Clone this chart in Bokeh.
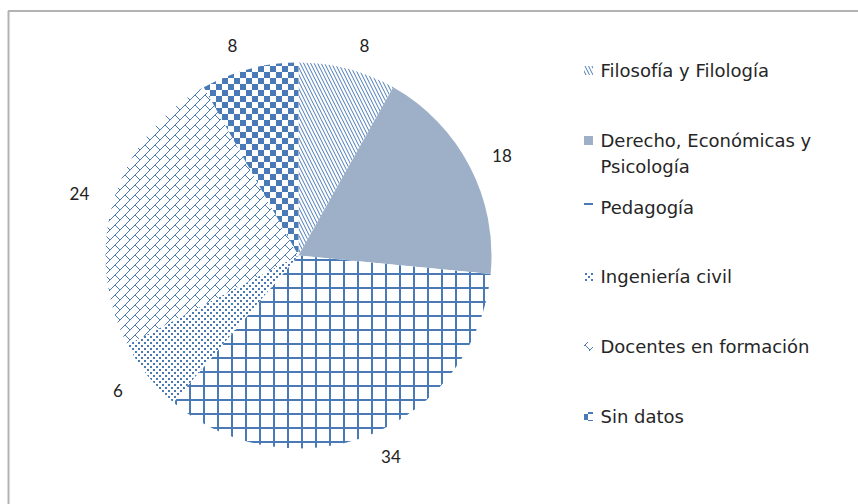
import math, zlib, struct, base64
from bokeh.plotting import figure
from bokeh.models import Range1d, ImageURLTexture, BoxAnnotation, ColumnDataSource
from bokeh.core.properties import value
from bokeh.embed import file_html
from bokeh.resources import INLINE

# ---- data ----
categories = ["Filosofía y Filología", "Derecho, Económicas y\nPsicología", "Pedagogía",
              "Ingeniería civil", "Docentes en formación", "Sin datos"]
values = [8, 18, 34, 6, 24, 8]

W, H = 858, 504
BLUE = "#4a7ab6"
RGB = (0x4a, 0x7a, 0xb6)
LABEL_FONT = "Lato"
LEGEND_FONT = "DejaVu Sans"

def X(x):
    return x

def Y(y):
    return H - y

def png_url(size, on):
    """Tiny RGBA PNG tile: pixel (x, y) coloured when on(x, y) is true."""
    raw = b""
    for y in range(size):
        raw += b"\x00"
        for x in range(size):
            raw += bytes(RGB) + (b"\xff" if on(x, y) else b"\x00")
    def chunk(t, d):
        return struct.pack(">I", len(d)) + t + d + struct.pack(">I", zlib.crc32(t + d) & 0xffffffff)
    data = (b"\x89PNG\r\n\x1a\n" + chunk(b"IHDR", struct.pack(">IIBBBBB", size, size, 8, 6, 0, 0, 0))
            + chunk(b"IDAT", zlib.compress(raw)) + chunk(b"IEND", b""))
    return "data:image/png;base64," + base64.b64encode(data).decode()

tex_dots = ImageURLTexture(url=png_url(6, lambda x, y: (x < 2 and y < 2) or (3 <= x < 5 and 3 <= y < 5)))
tex_brick = ImageURLTexture(url=png_url(10, lambda x, y: (x + y) % 10 == 9 or (x == y and x >= 5)))
tex_check = ImageURLTexture(url=png_url(12, lambda x, y: (x < 6) == (y < 6)))

p = figure(width=W, height=H, x_range=Range1d(0, W), y_range=Range1d(0, H),
           output_backend="svg", toolbar_location=None, min_border=0)
p.axis.visible = False
p.grid.visible = False
p.outline_line_color = None

styles = [
    dict(fill_color="white", hatch_pattern="\\", hatch_scale=7, hatch_weight=1),
    dict(fill_color="#9db0c8"),
    dict(fill_color="white", hatch_pattern="+", hatch_scale=14, hatch_weight=2),
    dict(fill_color="white", hatch_pattern=value("dots"), hatch_extra={"dots": tex_dots}),
    dict(fill_color="white", hatch_pattern=value("brick"), hatch_extra={"brick": tex_brick}),
    dict(fill_color="white", hatch_pattern=value("check"), hatch_extra={"check": tex_check}),
]

cx, cy, r = X(298), Y(255), 193
total = sum(values)
cum = 0
label_r = 217
for cat, v, st in zip(categories, values, styles):
    a0 = math.pi / 2 - 2 * math.pi * cum / total
    a1 = math.pi / 2 - 2 * math.pi * (cum + v) / total
    cum += v
    src = ColumnDataSource(dict(x=[cx], y=[cy], start=[a0], end=[a1]))
    p.wedge(x="x", y="y", radius=r, start_angle="start", end_angle="end", direction="clock",
            source=src, line_color=None, hatch_color=BLUE, **st)
    mid = (a0 + a1) / 2
    ux, uy = math.cos(mid), math.sin(mid)
    lx = cx + label_r * ux + math.copysign(11, ux)
    ly = cy + label_r * uy
    p.text(x=[lx], y=[ly], text=[str(v)],
           text_font=value(LABEL_FONT), text_font_size="17px", text_color="#222222",
           text_align="center", text_baseline="middle")

# ---- legend ----
leg_y = [70, 140, 207, 276, 346, 416]
for cat, st, ly in zip(categories, styles, leg_y):
    p.rect(x=[X(588)], y=[Y(ly)], width=9, height=9, line_color=None, hatch_color=BLUE, **st)
    for k, line in enumerate(cat.split("\n")):
        p.text(x=[X(600)], y=[Y(ly + 26 * k)], text=[line], text_font=value(LEGEND_FONT),
               text_font_size="18px", text_color="#262626", text_align="left",
               text_baseline="middle")

p.add_layout(BoxAnnotation(left=X(8), right=W + 50, top=Y(10.5), bottom=-50,
                           fill_alpha=0, line_color="black", line_width=2))

open("out.html", "w").write(file_html(p, INLINE))
